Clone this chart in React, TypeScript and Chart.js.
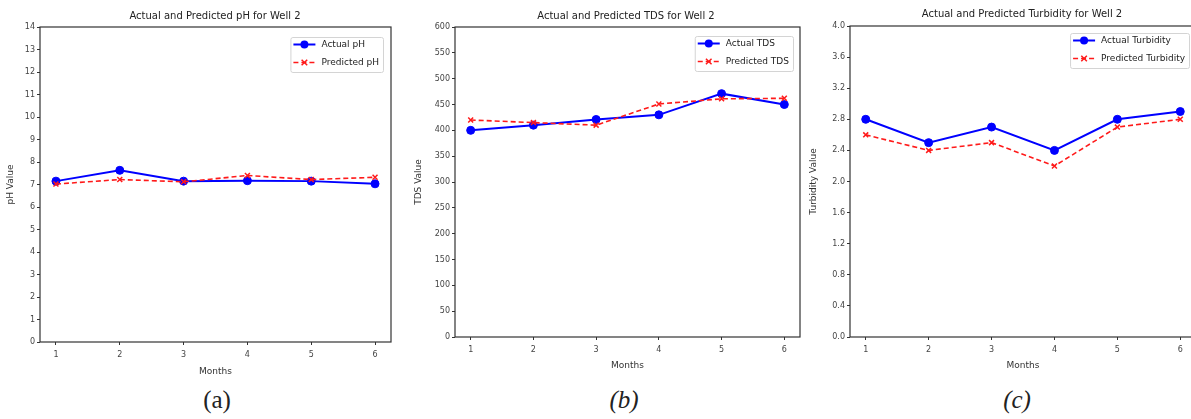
import React, { useEffect, useRef } from "react";
import { Chart, registerables } from "chart.js";

Chart.register(...registerables);

// ---------------- DATA ----------------
const months = [1, 2, 3, 4, 5, 6];

const phActual = [7.15, 7.63, 7.15, 7.17, 7.15, 7.03];
const phPredicted = [7.02, 7.22, 7.12, 7.4, 7.22, 7.32];
const phTicks = [0, 1, 2, 3, 4, 5, 6, 7, 8, 9, 10, 11, 12, 13, 14];

const tdsActual = [400, 410, 421, 430, 471, 450];
const tdsPredicted = [420, 415, 410, 451, 461, 462];
const tdsTicks = [0, 50, 100, 150, 200, 250, 300, 350, 400, 450, 500, 550, 600];

const turbActual = [2.8, 2.5, 2.7, 2.4, 2.8, 2.9];
const turbPredicted = [2.6, 2.4, 2.5, 2.2, 2.7, 2.8];
const turbTicks = [0.0, 0.4, 0.8, 1.2, 1.6, 2.0, 2.4, 2.8, 3.2, 3.6, 4.0];

// ---------------- LAYOUT ----------------
type Panel = {
  title: string;
  yLabel: string;
  actualLabel: string;
  predictedLabel: string;
  actual: number[];
  predicted: number[];
  yTicks: number[];
  decimals: number;
  canvas: { left: number; width: number; height: number };
  area: { left: number; right: number; top: number; bottom: number };
  yTitleCenter: number;
  xTitleCenter: number;
  titleY: number;
  titleX: number;
  legend: { right: number; top: number };
  caption: string;
  captionItalic: boolean;
  captionX: number;
};

const panels: Panel[] = [
  {
    title: "Actual and Predicted pH for Well 2",
    yLabel: "pH Value",
    actualLabel: "Actual pH",
    predictedLabel: "Predicted pH",
    actual: phActual,
    predicted: phPredicted,
    yTicks: phTicks,
    decimals: 0,
    canvas: { left: 0, width: 400, height: 385 },
    area: { left: 40, right: 391, top: 27, bottom: 342 },
    yTitleCenter: 11,
    xTitleCenter: 372,
    titleY: 16,
    titleX: 215,
    legend: { right: 8, top: 10 },
    caption: "(a)",
    captionItalic: false,
    captionX: 217,
  },
  {
    title: "Actual and Predicted TDS for Well 2",
    yLabel: "TDS Value",
    actualLabel: "Actual TDS",
    predictedLabel: "Predicted TDS",
    actual: tdsActual,
    predicted: tdsPredicted,
    yTicks: tdsTicks,
    decimals: 0,
    canvas: { left: 400, width: 405, height: 385 },
    area: { left: 455, right: 800, top: 27, bottom: 337 },
    yTitleCenter: 419,
    xTitleCenter: 366,
    titleY: 16,
    titleX: 626,
    legend: { right: 7, top: 9 },
    caption: "(b)",
    captionItalic: true,
    captionX: 624,
  },
  {
    title: "Actual and Predicted Turbidity for Well 2",
    yLabel: "Turbidity Value",
    actualLabel: "Actual Turbidity",
    predictedLabel: "Predicted Turbidity",
    actual: turbActual,
    predicted: turbPredicted,
    yTicks: turbTicks,
    decimals: 1,
    canvas: { left: 805, width: 393, height: 385 },
    area: { left: 850, right: 1196, top: 26, bottom: 337 },
    yTitleCenter: 814,
    xTitleCenter: 366,
    titleY: 14,
    titleX: 1022,
    legend: { right: 7, top: 7 },
    caption: "(c)",
    captionItalic: true,
    captionX: 1017,
  },
];

const FONT = "'DejaVu Sans', 'Liberation Sans', sans-serif";
const BLUE = "#0000ff";
const RED = "#ff1a1a";
const AXIS = "#333333";

const framePlugin = {
  id: "frame",
  beforeDatasetsDraw(chart: any) {
    const { ctx, chartArea: a } = chart;
    ctx.save();
    ctx.strokeStyle = AXIS;
    ctx.lineWidth = 1.2;
    ctx.strokeRect(a.left, a.top, a.right - a.left, a.bottom - a.top);
    ctx.restore();
  },
};

const titlePlugin = {
  id: "panelTitle",
  afterDraw(chart: any, _args: any, opts: any) {
    const { ctx } = chart;
    ctx.save();
    ctx.font = `10px ${FONT}`;
    ctx.fillStyle = "#222";
    ctx.textAlign = "center";
    ctx.textBaseline = "middle";
    ctx.fillText(opts.text, opts.x, opts.y);
    ctx.restore();
  },
};

const legendPlugin = {
  id: "boxLegend",
  afterDatasetsDraw(chart: any, _args: any, opts: any) {
    const { ctx, chartArea: a } = chart;
    const items = chart.data.datasets;
    ctx.save();
    ctx.font = `9px ${FONT}`;
    const textW = Math.max(...items.map((d: any) => ctx.measureText(d.label).width));
    const w = 3 + 22 + 6 + textW + 4;
    const h = 35;
    const x = a.right - opts.right - w;
    const y = a.top + opts.top;
    ctx.fillStyle = "rgba(255,255,255,0.85)";
    ctx.strokeStyle = "#d4d4d4";
    ctx.lineWidth = 1;
    ctx.beginPath();
    ctx.roundRect(x + 0.5, y + 0.5, w, h, 2);
    ctx.fill();
    ctx.stroke();
    items.forEach((d: any, i: number) => {
      const cy = y + 7.5 + 18 * i;
      const x0 = x + 3;
      const x1 = x + 25;
      const mx = (x0 + x1) / 2;
      ctx.strokeStyle = d.borderColor;
      ctx.lineWidth = d.borderWidth;
      ctx.setLineDash(d.borderDash || []);
      ctx.beginPath();
      ctx.moveTo(x0, cy);
      ctx.lineTo(x1, cy);
      ctx.stroke();
      ctx.setLineDash([]);
      if (d.pointStyle === "circle") {
        ctx.fillStyle = d.borderColor;
        ctx.beginPath();
        ctx.arc(mx, cy, 4, 0, Math.PI * 2);
        ctx.fill();
      } else {
        ctx.lineWidth = 1.5;
        const r = 2.8;
        ctx.beginPath();
        ctx.moveTo(mx - r, cy - r);
        ctx.lineTo(mx + r, cy + r);
        ctx.moveTo(mx + r, cy - r);
        ctx.lineTo(mx - r, cy + r);
        ctx.stroke();
      }
      ctx.fillStyle = "#222";
      ctx.textAlign = "left";
      ctx.textBaseline = "middle";
      ctx.fillText(d.label, x + 31, cy);
    });
    ctx.restore();
  },
};

function PanelChart({ p }: { p: Panel }) {
  const ref = useRef<HTMLCanvasElement>(null);
  useEffect(() => {
    if (!ref.current) return;
    const axisTitleLine = 9 * 1.2;
    const padLeft = p.yTitleCenter - p.canvas.left - axisTitleLine / 2;
    const yAxisWidth = p.area.left - p.canvas.left - padLeft;
    const xAxisHeight = p.canvas.height - p.area.bottom;
    const xTitlePadBottom = p.canvas.height - p.xTitleCenter - axisTitleLine / 2;
    const chart = new Chart(ref.current, {
      type: "line",
      data: {
        datasets: [
          {
            label: p.actualLabel,
            data: months.map((m, i) => ({ x: m, y: p.actual[i] })),
            borderColor: BLUE,
            backgroundColor: BLUE,
            borderWidth: 2,
            pointStyle: "circle",
            pointRadius: 4,
            pointBorderWidth: 1,
            pointBorderColor: BLUE,
            pointBackgroundColor: BLUE,
            order: 2,
          } as any,
          {
            label: p.predictedLabel,
            data: months.map((m, i) => ({ x: m, y: p.predicted[i] })),
            borderColor: RED,
            backgroundColor: RED,
            borderWidth: 1.6,
            borderDash: [5, 3],
            pointStyle: "crossRot",
            pointRadius: 3.5,
            pointBorderWidth: 1.5,
            pointBorderColor: RED,
            order: 1,
          } as any,
        ],
      },
      options: {
        responsive: false,
        animation: false,
        devicePixelRatio: 1,
        layout: {
          autoPadding: false,
          padding: {
            left: padLeft,
            top: p.area.top,
            right: p.canvas.left + p.canvas.width - p.area.right,
            bottom: 0,
          },
        },
        scales: {
          x: {
            type: "linear",
            min: 0.75,
            max: 6.25,
            afterBuildTicks: (s: any) => {
              s.ticks = months.map((v) => ({ value: v }));
            },
            afterFit: (s: any) => {
              s.height = xAxisHeight;
            },
            border: { display: false },
            grid: { display: true, drawOnChartArea: false, drawTicks: true, tickLength: 3, color: AXIS, lineWidth: 1 },
            ticks: { font: { family: FONT, size: 8 }, color: "#444", padding: 5, maxRotation: 0, callback: (v: any) => String(v) },
            title: {
              display: true,
              text: "Months",
              font: { family: FONT, size: 9 },
              color: "#333",
              padding: { top: 0, bottom: xTitlePadBottom },
            },
          },
          y: {
            type: "linear",
            min: p.yTicks[0],
            max: p.yTicks[p.yTicks.length - 1],
            afterBuildTicks: (s: any) => {
              s.ticks = p.yTicks.map((v) => ({ value: v }));
            },
            afterFit: (s: any) => {
              s.width = yAxisWidth;
            },
            border: { display: false },
            grid: { display: true, drawOnChartArea: false, drawTicks: true, tickLength: 3, color: AXIS, lineWidth: 1 },
            ticks: {
              font: { family: FONT, size: 8 },
              color: "#444",
              padding: 2,
              callback: (v: any) => Number(v).toFixed(p.decimals),
            },
            title: {
              display: true,
              text: p.yLabel,
              font: { family: FONT, size: 9 },
              color: "#333",
              padding: { top: 0, bottom: 0 },
            },
          },
        },
        plugins: {
          legend: { display: false },
          title: { display: false },
          tooltip: { enabled: false },
          panelTitle: { text: p.title, y: p.titleY, x: p.titleX - p.canvas.left },
          boxLegend: p.legend,
        } as any,
      },
      plugins: [framePlugin, titlePlugin, legendPlugin],
    });
    return () => chart.destroy();
  }, [p]);
  return (
    <canvas
      ref={ref}
      width={p.canvas.width}
      height={p.canvas.height}
      style={{ position: "absolute", left: p.canvas.left, top: 0, width: p.canvas.width, height: p.canvas.height }}
    />
  );
}

export default function App() {
  return (
    <div style={{ position: "absolute", left: 0, top: 0, width: 1191, height: 419, background: "#fff", overflow: "hidden" }}>
      {panels.map((p) => (
        <PanelChart key={p.caption} p={p} />
      ))}
      {panels.map((p) => (
        <div
          key={"cap" + p.caption}
          style={{
            position: "absolute",
            left: p.captionX - 50,
            width: 100,
            top: 385,
            height: 30,
            lineHeight: "30px",
            textAlign: "center",
            fontFamily: "'Liberation Serif', 'DejaVu Serif', serif",
            fontStyle: p.captionItalic ? "italic" : "normal",
            fontSize: 25,
            color: "#222",
          }}
        >
          {p.caption}
        </div>
      ))}
    </div>
  );
}
